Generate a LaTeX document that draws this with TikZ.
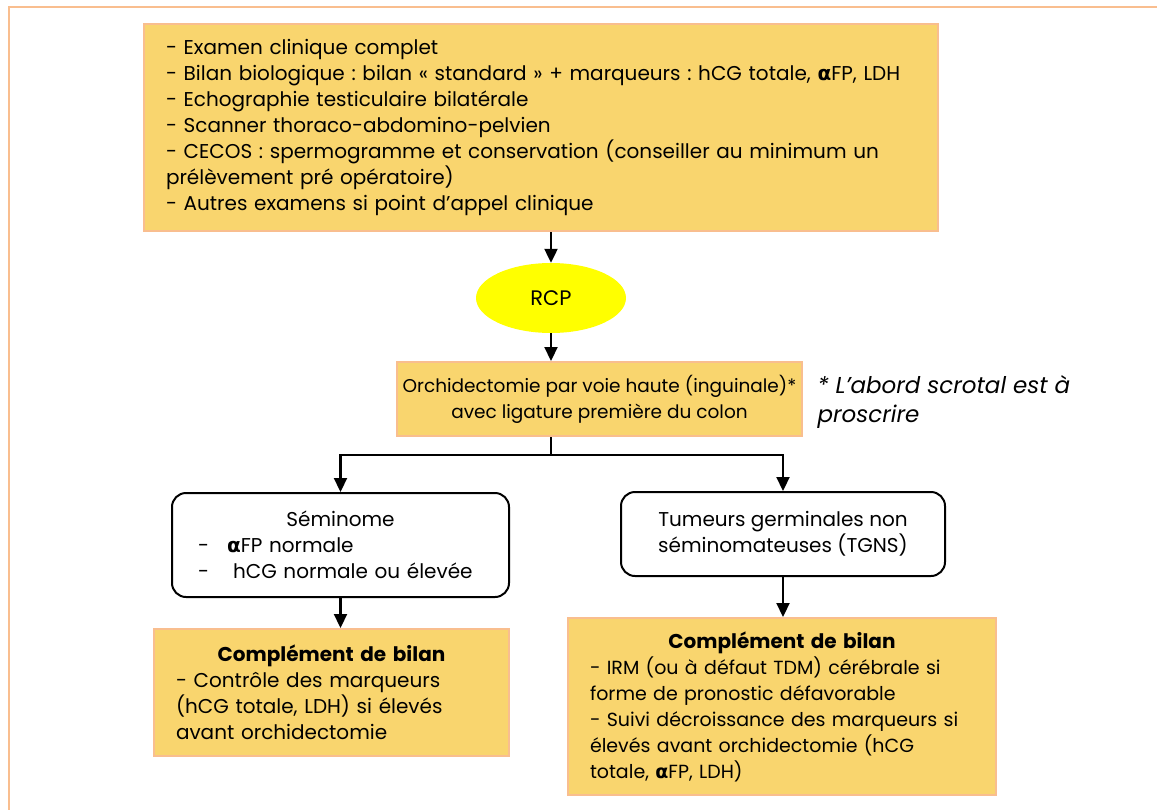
\documentclass[tikz,border=0pt]{standalone}
\usepackage{fontspec}
\setmainfont{Poppins}
\newfontfamily\grkfont{DejaVu Sans}
\usetikzlibrary{arrows.meta,positioning,shapes.geometric}
\definecolor{bilanfill}{HTML}{F9D56E}
\definecolor{bilanedge}{HTML}{F9BE8F}
\definecolor{rcpyellow}{HTML}{FFFF00}
\newcommand{\afp}{{\grkfont\bfseries α}FP}
\frenchspacing
\begin{document}
\begin{tikzpicture}[x=1pt,y=-1pt,
  bilan/.style={draw=bilanedge,fill=bilanfill,line width=2pt,font=\fontsize{20}{26}\selectfont,inner ysep=0pt},
  decision/.style={draw=black,fill=white,line width=2pt,rounded corners=14pt,font=\fontsize{20}{26}\selectfont},
  rcp/.style={ellipse,fill=rcpyellow,minimum width=150pt,minimum height=70pt,font=\fontsize{21}{24}\selectfont},
  arrow/.style={-{Triangle[length=14pt,width=13pt]},line width=2.2pt,draw=black},
  link/.style={line width=2.2pt,draw=black},
  note/.style={font=\fontsize{23}{29}\selectfont\itshape,align=left,anchor=west}
]
\useasboundingbox (0,0) rectangle (1157,809);
\draw[bilanedge,line width=2.5pt] (9,7) rectangle (1175,830);
\node[bilan,text width=750pt,inner xsep=22pt,minimum height=207pt,align=left] (examens) at (541,127.5) {- Examen clinique complet\\- Bilan biologique : bilan « standard » + marqueurs : hCG totale, \afp, LDH\\- Echographie testiculaire bilatérale\\- Scanner thoraco-abdomino-pelvien\\- CECOS : spermogramme et conservation (conseiller au minimum un\\prélèvement pré opératoire)\\- Autres examens si point d’appel clinique};
\node[rcp] (rcp) at (551,298) {RCP};
\node[bilan,font=\fontsize{18.5}{26}\selectfont,minimum width=405pt,minimum height=74pt,align=center] (orchid) at (599.5,399) {Orchidectomie par voie haute (inguinale)*\\avec ligature première du colon};
\node[note] (abord) at (814,402) {* L’abord scrotal est à\\proscrire};
\node[decision,text width=285pt,inner xsep=26pt,minimum height=104pt,align=left] (seminome) at (340.5,545) {\makebox[\linewidth]{Séminome}\\-\hspace{18pt}\afp{} normale\\-\hspace{24pt}hCG normale ou élevée};
\node[decision,minimum width=324pt,minimum height=84pt,align=center] (tgns) at (783,534) {Tumeurs germinales non\\séminomateuses (TGNS)};
\node[bilan,text width=311pt,inner xsep=22pt,minimum height=127pt,align=left] (complsem) at (331.5,692.5) {\makebox[\linewidth]{\bfseries Complément de bilan}\\- Contrôle des marqueurs\\(hCG totale, LDH) si élevés\\avant orchidectomie};
\node[bilan,font=\fontsize{19}{26}\selectfont,text width=402pt,inner xsep=13pt,minimum height=177pt,align=left] (compltgns) at (782,706.5) {\makebox[\linewidth]{\bfseries\fontsize{20}{26}\selectfont Complément de bilan}\\\hspace*{9pt}- IRM (ou à défaut TDM) cérébrale si\\\hspace*{9pt}forme de pronostic défavorable\\\hspace*{9pt}- Suivi décroissance des marqueurs si\\\hspace*{9pt}élevés avant orchidectomie (hCG\\\hspace*{9pt}totale, \afp, LDH)};
\coordinate (split) at (551,455);
\draw[arrow] (rcp.north |- examens.south) -- (rcp.north);
\draw[arrow] (rcp.south) -- (rcp.south |- orchid.north);
\draw[link] (rcp.south |- orchid.south) -- (split);
\draw[arrow] (split) -| (seminome.north);
\draw[arrow] (split) -| (tgns.north);
\draw[arrow] (seminome.south) -- (seminome.south |- complsem.north);
\draw[arrow] (tgns.south) -- (tgns.south |- compltgns.north);
\end{tikzpicture}
\end{document}
